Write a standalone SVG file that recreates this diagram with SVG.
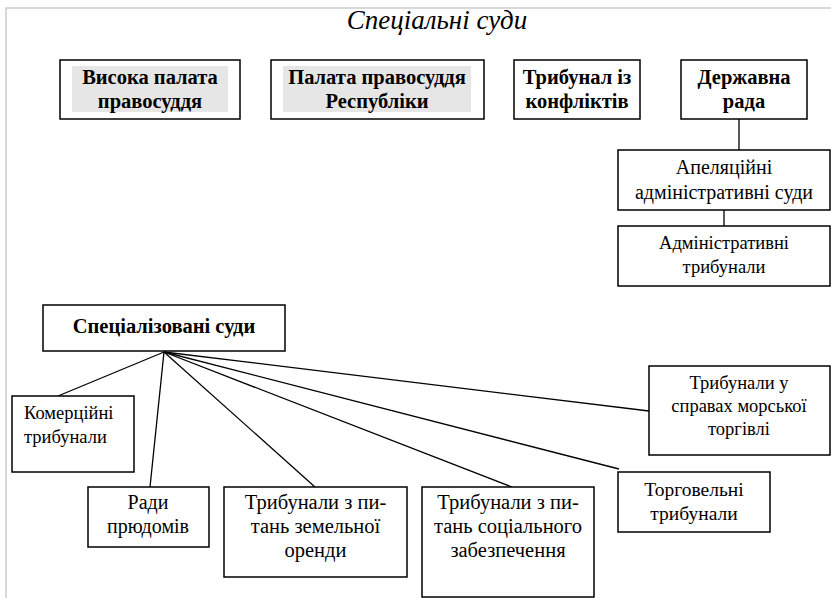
<svg xmlns="http://www.w3.org/2000/svg" width="831" height="598" viewBox="0 0 831 598">
  <style>
    .box { fill: #ffffff; stroke: #000000; stroke-width: 1.5; }
    .shade { fill: #e6e6e6; }
    text { font-family: "Liberation Serif", "Times New Roman", serif; fill: #000; text-anchor: middle; font-size: 20px; }
    .b { font-weight: bold; font-size: 20.5px; }
    .s185 { font-size: 18.5px; }
    .s195 { font-size: 19.5px; }
    .s205 { font-size: 20.5px; }
    .left { text-anchor: start; }
    .title { font-style: italic; font-size: 27px; }
    .link { stroke: #000000; stroke-width: 1.3; fill: none; }
    .frame { stroke: #cccccc; stroke-width: 1.5; fill: none; }
  </style>

  <rect width="831" height="598" fill="#ffffff"/>
  <path class="frame" d="M6,598 V8 H831"/>

  <text class="title" x="437" y="29">Спеціальні суди</text>

  <g id="connectors">
    <line class="link" x1="739" y1="119" x2="739" y2="150"/>
    <line class="link" x1="724" y1="210" x2="724" y2="226"/>
    <line class="link" x1="164" y1="352" x2="58" y2="396"/>
    <line class="link" x1="164" y1="352" x2="150" y2="487"/>
    <line class="link" x1="164" y1="352" x2="315" y2="487"/>
    <line class="link" x1="164" y1="352" x2="512" y2="487"/>
    <line class="link" x1="164" y1="352" x2="619" y2="469"/>
    <line class="link" x1="164" y1="352" x2="649" y2="411"/>
  </g>

  <g id="vyshcha-palata">
    <rect class="box" x="60" y="60" width="180" height="59"/>
    <rect class="shade" x="72" y="66" width="156" height="46"/>
    <text class="b" x="150" y="84">Висока палата</text>
    <text class="b" x="150" y="108">правосуддя</text>
  </g>

  <g id="palata-respubliky">
    <rect class="box" x="271" y="60" width="213" height="59"/>
    <rect class="shade" x="283" y="66" width="188" height="46"/>
    <text class="b" x="377" y="84">Палата правосуддя</text>
    <text class="b" x="377" y="108">Республіки</text>
  </g>

  <g id="trybunal-konfliktiv">
    <rect class="box" x="514" y="60" width="126" height="59"/>
    <text class="b" x="577" y="84">Трибунал із</text>
    <text class="b" x="577" y="108">конфліктів</text>
  </g>

  <g id="derzhavna-rada">
    <rect class="box" x="681" y="60" width="126" height="59"/>
    <text class="b" x="744" y="84">Державна</text>
    <text class="b" x="744" y="108">рада</text>
  </g>

  <g id="apeliatsiini-sudy">
    <rect class="box" x="618" y="150" width="212" height="60"/>
    <text x="724" y="174">Апеляційні</text>
    <text x="724" y="199">адміністративні суди</text>
  </g>

  <g id="admin-trybunaly">
    <rect class="box" x="618" y="226" width="212" height="60"/>
    <text class="s185" x="724" y="249">Адміністративні</text>
    <text class="s185" x="724" y="273">трибунали</text>
  </g>

  <g id="spetsializovani-sudy">
    <rect class="box" x="43" y="305" width="242" height="46"/>
    <text class="b" x="164" y="333">Спеціалізовані суди</text>
  </g>

  <g id="komertsiini">
    <rect class="box" x="12" y="396" width="122" height="76"/>
    <text class="s185 left" x="24" y="419">Комерційні</text>
    <text class="s185 left" x="24" y="443">трибунали</text>
  </g>

  <g id="rady-prudomiv">
    <rect class="box" x="88" y="487" width="121" height="60"/>
    <text x="148" y="509">Ради</text>
    <text x="148" y="533">прюдомів</text>
  </g>

  <g id="zemelna-orenda">
    <rect class="box" x="224" y="487" width="183" height="90"/>
    <text class="s205" x="315.5" y="509">Трибунали з пи-</text>
    <text class="s205" x="315.5" y="533">тань земельної</text>
    <text class="s205" x="315.5" y="557">оренди</text>
  </g>

  <g id="sotsialne-zabezpechennia">
    <rect class="box" x="422" y="487" width="172" height="110"/>
    <text class="s205" x="508" y="509">Трибунали з пи-</text>
    <text class="s205" x="508" y="533">тань соціального</text>
    <text class="s205" x="508" y="557">забезпечення</text>
  </g>

  <g id="torgovelni">
    <rect class="box" x="618" y="472" width="152" height="60"/>
    <text class="s195" x="694" y="496">Торговельні</text>
    <text class="s195" x="694" y="520">трибунали</text>
  </g>

  <g id="morska-torgivlia">
    <rect class="box" x="649" y="366" width="181" height="89"/>
    <text class="s185" x="739" y="389">Трибунали у</text>
    <text class="s185" x="739" y="412">справах морської</text>
    <text class="s185" x="739" y="435">торгівлі</text>
  </g>
</svg>
